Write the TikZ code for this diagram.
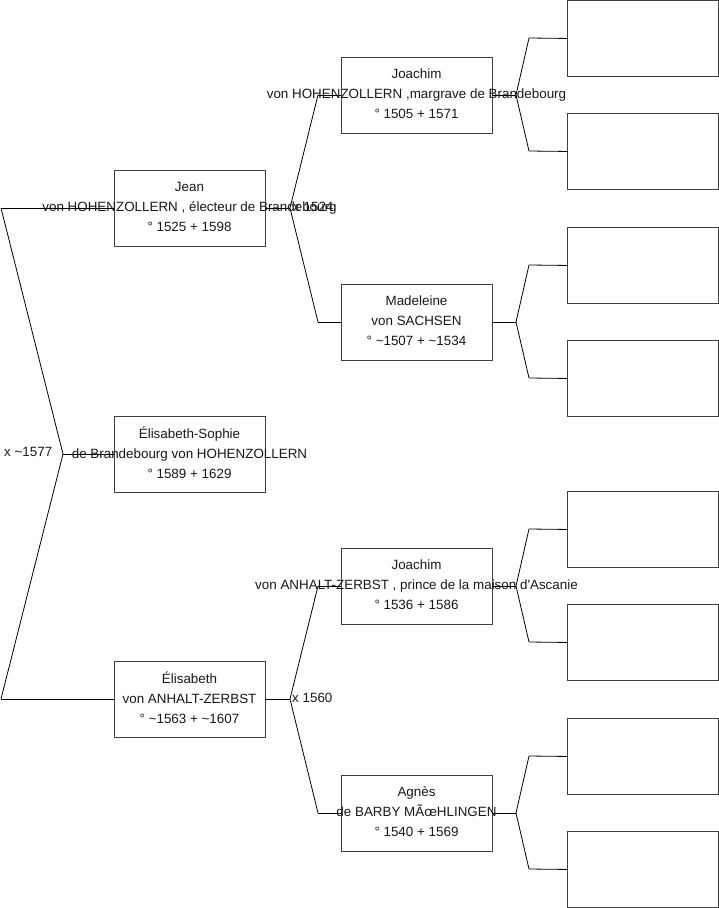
\documentclass[tikz,border=0pt]{standalone}
\usepackage{fontspec}
\setmainfont{Liberation Sans}
\begin{document}
\begin{tikzpicture}[x=1pt,y=-1pt,
  pbox/.style={draw=black!75,line width=0.9pt,minimum width=151pt,minimum height=76pt,inner sep=0pt,fill=white},
  ebox/.style={draw=black!75,line width=0.9pt,minimum width=151pt,minimum height=76pt,inner sep=0pt,anchor=north west},
  ptext/.style={align=center,font=\fontsize{13.4pt}{20pt}\selectfont,text=black!90},
  mtext/.style={anchor=west,font=\fontsize{13.4pt}{15pt}\selectfont,text=black!90,inner sep=0pt},
  link/.style={draw=black,line width=0.8pt}]
\useasboundingbox[fill=white] (0,0) rectangle (719,908);

% generation coordinates
\coordinate (l0) at (1,208);
\coordinate (lapex) at (63,454);
\coordinate (l2) at (1,699);

\coordinate (ja) at (290,208);
\coordinate (ja1) at (318,95);
\coordinate (ja2) at (318,322);
\coordinate (ea) at (290,699);
\coordinate (ea1) at (318,586);
\coordinate (ea2) at (318,813);

\coordinate (a1) at (516,95);  \coordinate (a1u) at (529,38);  \coordinate (a1d) at (529,151);
\coordinate (a2) at (516,322); \coordinate (a2u) at (529,265); \coordinate (a2d) at (529,378);
\coordinate (a3) at (516,586); \coordinate (a3u) at (529,529); \coordinate (a3d) at (529,642);
\coordinate (a4) at (516,813); \coordinate (a4u) at (529,756); \coordinate (a4d) at (529,869);

% boxes
\node[pbox] (jean) at (189.5,208) {};
\node[pbox] (elsoph) at (189.5,454) {};
\node[pbox] (elis) at (189.5,699) {};
\node[pbox] (joh) at (416.5,95) {};
\node[pbox] (mad) at (416.5,322) {};
\node[pbox] (joa) at (416.5,586) {};
\node[pbox] (agn) at (416.5,813) {};

\node[ebox] (e1) at (567,0) {};
\node[ebox] (e2) at (567,113) {};
\node[ebox] (e3) at (567,227) {};
\node[ebox] (e4) at (567,340) {};
\node[ebox] (e5) at (567,491) {};
\node[ebox] (e6) at (567,604) {};
\node[ebox] (e7) at (567,718) {};
\node[ebox] (e8) at (567,831) {};

% connectors
\draw[link] (l0) -- (jean.west);
\draw[link] (l0) -- (lapex) -- (l2);
\draw[link] (lapex) -- (elsoph.west);
\draw[link] (l2) -- (elis.west);

\draw[link] (jean.east) -- (ja);
\draw[link] (ja1) -- (ja) -- (ja2);
\draw[link] (ja1) -- (joh.west);
\draw[link] (ja2) -- (mad.west);

\draw[link] (elis.east) -- (ea);
\draw[link] (ea1) -- (ea) -- (ea2);
\draw[link] (ea1) -- (joa.west);
\draw[link] (ea2) -- (agn.west);

\draw[link] (joh.east) -- (a1); \draw[link] (a1u) -- (a1) -- (a1d);
\draw[link] (a1u) -- (e1.west); \draw[link] (a1d) -- (e2.west);
\draw[link] (mad.east) -- (a2); \draw[link] (a2u) -- (a2) -- (a2d);
\draw[link] (a2u) -- (e3.west); \draw[link] (a2d) -- (e4.west);
\draw[link] (joa.east) -- (a3); \draw[link] (a3u) -- (a3) -- (a3d);
\draw[link] (a3u) -- (e5.west); \draw[link] (a3d) -- (e6.west);
\draw[link] (agn.east) -- (a4); \draw[link] (a4u) -- (a4) -- (a4d);
\draw[link] (a4u) -- (e7.west); \draw[link] (a4d) -- (e8.west);

% texts
\node[ptext] (tjean) at ([yshift=1pt]jean.center) {Jean\\von HOHENZOLLERN , électeur de Brandebourg\\° 1525 + 1598};
\node[ptext] (telsoph) at ([yshift=1pt]elsoph.center) {Élisabeth-Sophie\\de Brandebourg von HOHENZOLLERN\\° 1589 + 1629};
\node[ptext] (telis) at ([yshift=1pt]elis.center) {Élisabeth\\von ANHALT-ZERBST\\° \textasciitilde1563 + \textasciitilde1607};
\node[ptext] (tjoh) at ([yshift=1pt]joh.center) {Joachim\\von HOHENZOLLERN ,margrave de Brandebourg\\° 1505 + 1571};
\node[ptext] (tmad) at ([yshift=1pt]mad.center) {Madeleine\\von SACHSEN\\° \textasciitilde1507 + \textasciitilde1534};
\node[ptext] (tjoa) at ([yshift=1pt]joa.center) {Joachim\\von ANHALT-ZERBST , prince de la maison d\textquotesingle Ascanie\\° 1536 + 1586};
\node[ptext] (tagn) at ([yshift=1pt]agn.center) {Agnès\\de BARBY MÃ\oe HLINGEN\\° 1540 + 1569};

\node[mtext] (m1) at (4,452) {x \textasciitilde1577};
\node[mtext] (m2) at (293,207) {x 1524};
\node[mtext] (m3) at (292,698) {x 1560};
\end{tikzpicture}
\end{document}
